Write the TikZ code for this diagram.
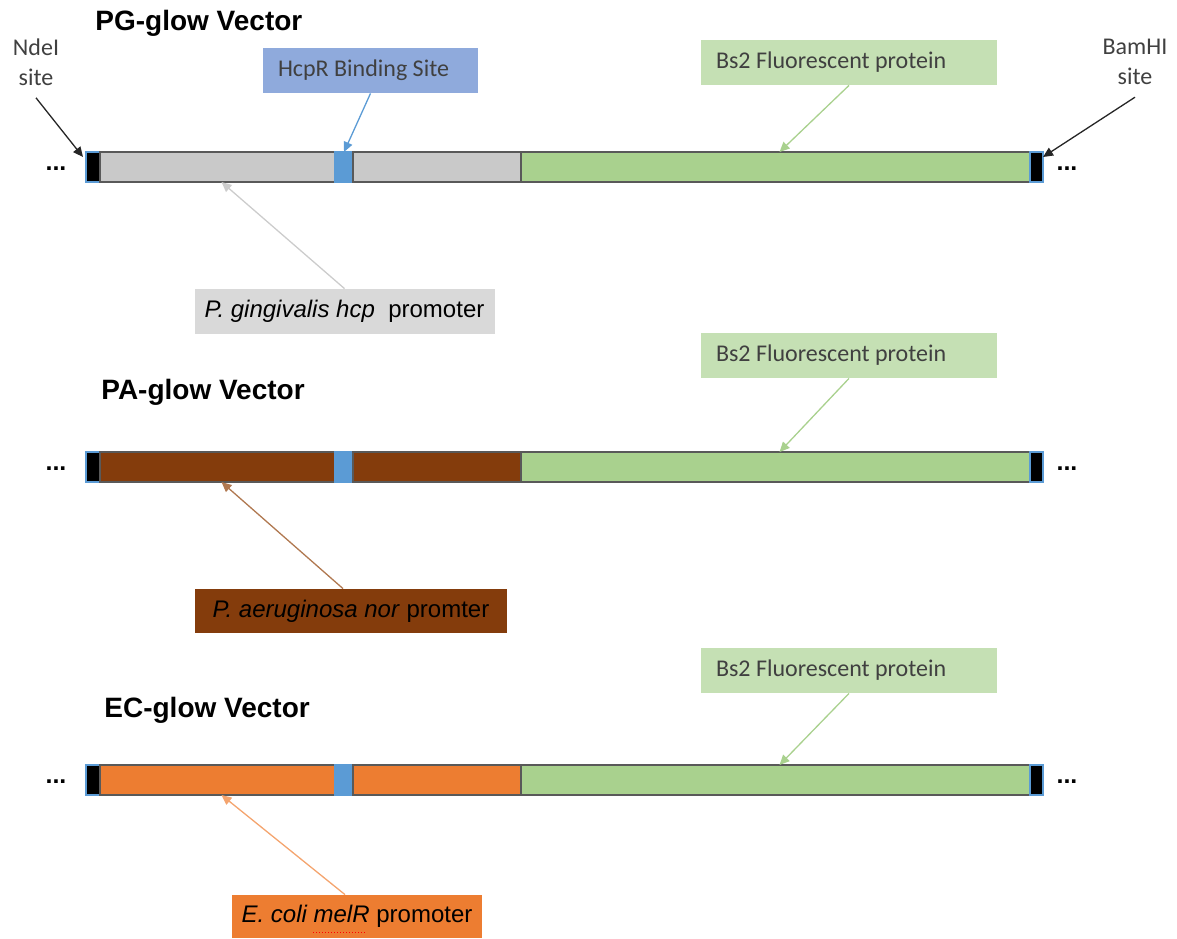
\documentclass[tikz,border=0pt]{standalone}
\usepackage{fontspec}
\setmainfont{Liberation Sans}
\newfontfamily\calibri{Carlito}
\usetikzlibrary{arrows.meta, positioning}

\definecolor{promgrey}{HTML}{C9C9C9}
\definecolor{prombrown}{HTML}{843C0C}
\definecolor{promorange}{HTML}{ED7D31}
\definecolor{hbsblue}{HTML}{5B9BD5}
\definecolor{gfpgreen}{HTML}{A9D18E}
\definecolor{bluebox}{HTML}{8FAADC}
\definecolor{greenbox}{HTML}{C5E0B4}
\definecolor{greybox}{HTML}{D9D9D9}
\definecolor{textgrey}{HTML}{404040}
\definecolor{brownarrow}{HTML}{B07850}
\definecolor{orangearrow}{HTML}{F4A46E}

\tikzset{
  seg/.style={rectangle, draw=black!65, line width=0.6pt, minimum height=15pt, inner sep=0pt, outer sep=0pt},
  endcap/.style={seg, draw=hbsblue, fill=black, minimum width=7pt},
  label box/.style={rectangle, inner ysep=0pt, inner xsep=7.5pt, align=flush left, minimum height=22.5pt, font=\calibri\fontsize{12}{14}\selectfont, text=textgrey},
  prom box/.style={rectangle, inner sep=0pt, minimum height=22.5pt, font=\fontsize{12}{14}\selectfont},
  title/.style={font=\bfseries\fontsize{14}{16}\selectfont, anchor=base west, inner sep=0pt},
  site/.style={align=center, inner sep=0pt, font=\calibri\fontsize{12}{15}\selectfont, text=textgrey},
  arr/.style={-{Triangle[length=5pt,width=4.5pt]}, line width=0.65pt},
  dots/.style={font=\bfseries\fontsize{12.5}{14}\selectfont, inner sep=0pt}
}

\begin{document}
\begin{tikzpicture}[x=0.5pt, y=-0.5pt]
  \useasboundingbox (0,0) rectangle (1177,938);

  % the three constructs
  \foreach \v/\y/\pcol/\gy in {pg/167/promgrey/62.5, pa/467/prombrown/355.5, ec/780/promorange/670.5} {
    \node[endcap, anchor=west] (\v-cap1) at (86,\y) {};
    \node[seg, fill=\pcol, minimum width=117.5pt, right=0pt of \v-cap1] (\v-prom1) {};
    \node[seg, fill=hbsblue, draw=hbsblue, minimum width=9pt, right=0pt of \v-prom1] (\v-hbs) {};
    \node[seg, fill=\pcol, minimum width=84pt, right=0pt of \v-hbs] (\v-prom2) {};
    \node[seg, fill=gfpgreen, minimum width=254.5pt, right=0pt of \v-prom2] (\v-gfp) {};
    \node[endcap, minimum width=6.5pt, right=0pt of \v-gfp] (\v-cap2) {};
    \node[dots] (\v-ldots) at (56,\y+2) {...};
    \node[dots] (\v-rdots) at (1067,\y+2) {...};
    \node[label box, fill=greenbox, text width=133pt] (\v-bs2) at (849,\gy) {Bs2 Fluorescent protein};
    \draw[arr, gfpgreen] (\v-bs2.south) -- ([xshift=2pt]\v-gfp.north);
  }

  % titles
  \node[title] (pg-title) at (95,30) {PG-glow Vector};
  \node[title] (pa-title) at (101,399) {PA-glow Vector};
  \node[title] (ec-title) at (104,717) {EC-glow Vector};

  % restriction sites
  \node[site] (ndei) at (36,62) {NdeI\\site};
  \node[site] (bamhi) at (1135,62) {BamHI\\site};
  \draw[arr, black!85] ([yshift=-6pt]ndei.south) -- ([xshift=-1.5pt,yshift=-2.5pt]pg-cap1.north west);
  \draw[arr, black!85] ([yshift=-6pt]bamhi.south) -- ([yshift=-2.5pt]pg-cap2.north east);

  % binding site label
  \node[label box, fill=bluebox, text width=92.5pt] (hcpr) at (370.5,70.5) {HcpR Binding Site};
  \draw[arr, hbsblue] (hcpr.south) -- (pg-hbs.north);

  % promoter labels
  \node[prom box, fill=greybox, minimum width=150pt] (pg-label) at (344.5,311.5)
    {\textit{P. gingivalis hcp}\ \ promoter};
  \node[prom box, fill=prombrown, minimum width=156pt, minimum height=22pt] (pa-label) at (351,611)
    {\textit{P. aeruginosa nor} promter};
  \node[prom box, fill=promorange, minimum width=125pt, minimum height=21.5pt] (ec-label) at (357,916.5)
    {\textit{E. coli melR} promoter};
  \draw[red, densely dotted, line width=0.5pt] ([xshift=-22pt,yshift=3pt]ec-label.south) -- ([xshift=5pt,yshift=3pt]ec-label.south);

  \draw[arr, black!20] (pg-label.north) -- ([xshift=2pt]pg-prom1.south);
  \draw[arr, brownarrow] ([xshift=-4pt]pa-label.north) -- ([xshift=2pt]pa-prom1.south);
  \draw[arr, orangearrow] ([xshift=-6pt]ec-label.north) -- ([xshift=2pt]ec-prom1.south);
\end{tikzpicture}
\end{document}
